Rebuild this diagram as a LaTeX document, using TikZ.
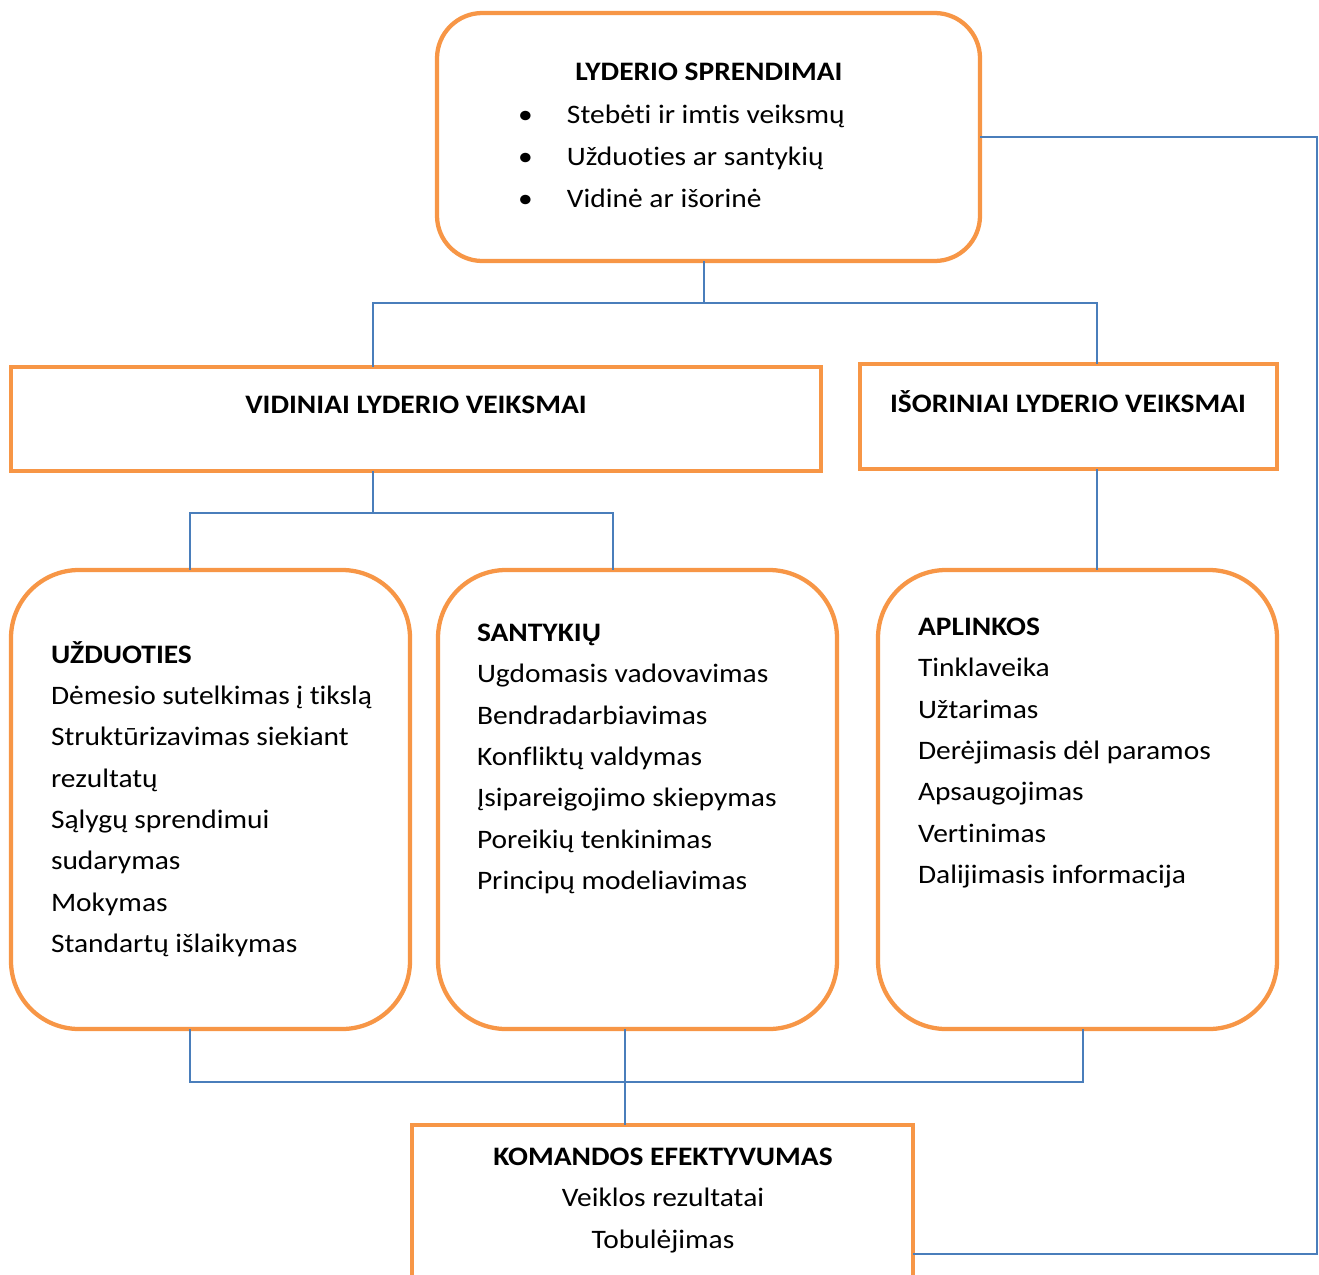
\documentclass[tikz,border=0pt]{standalone}
\usepackage{fontspec}
\setmainfont{Carlito}[FakeStretch=1.105,Ligatures=NoCommon]
\definecolor{orng}{HTML}{F79646}
\definecolor{blu}{HTML}{4A7EBB}
\newcommand\fl{\rule{0pt}{22pt}}
\begin{document}
\begin{tikzpicture}[x=0.75pt,y=-0.75pt,
  obox/.style={draw=orng,line width=3.2pt,fill=white,inner sep=0pt,outer sep=0pt},
  conn/.style={draw=blu,line width=1.1pt},
  txt/.style={inner sep=0pt,outer sep=0pt,font=\fontsize{20pt}{31pt}\selectfont},
  blk/.style={txt,anchor=north west,align=left},
  hd/.style={txt,anchor=base,font=\fontsize{20pt}{31pt}\selectfont\bfseries}]
\useasboundingbox (0,0) rectangle (1319,1274);
% boxes
\node[obox,rounded corners=34pt,minimum width=543*0.75pt,minimum height=248*0.75pt] (top) at (708.5,137) {};
\node[obox,minimum width=810*0.75pt,minimum height=104*0.75pt] (vid) at (416,419) {};
\node[obox,minimum width=417*0.75pt,minimum height=105*0.75pt] (iso) at (1068.5,416.5) {};
\node[obox,rounded corners=51pt,minimum width=399*0.75pt,minimum height=459*0.75pt] (u) at (210.5,799.5) {};
\node[obox,rounded corners=51pt,minimum width=399*0.75pt,minimum height=459*0.75pt] (s) at (637.5,799.5) {};
\node[obox,rounded corners=51pt,minimum width=399*0.75pt,minimum height=459*0.75pt] (a) at (1077.5,799.5) {};
\node[obox,minimum width=501*0.75pt,minimum height=258*0.75pt] (k) at (662.5,1254) {};
% texts
\node[hd] (tt) at (709,80) {LYDERIO SPRENDIMAI};
\node[blk,font=\fontsize{20pt}{31.6pt}\selectfont] (tl) at (518,93.7) {\fl\makebox[36.75pt][l]{\textbullet}Stebėti ir imtis veiksmų\\
\makebox[36.75pt][l]{\textbullet}Užduoties ar santykių\\
\makebox[36.75pt][l]{\textbullet}Vidinė ar išorinė};
\node[hd] (vt) at (416,413) {VIDINIAI LYDERIO VEIKSMAI};
\node[hd] (it) at (1068,412) {IŠORINIAI LYDERIO VEIKSMAI};
\node[blk] (ut) at (51,633.7) {\fl\textbf{UŽDUOTIES}\\Dėmesio sutelkimas į tikslą\\Struktūrizavimas siekiant\\rezultatų\\Sąlygų sprendimui\\sudarymas\\Mokymas\\Standartų išlaikymas};
\node[blk] (st) at (477,612.2) {\fl\textbf{SANTYKIŲ}\\Ugdomasis vadovavimas\\Bendradarbiavimas\\Konfliktų valdymas\\Įsipareigojimo skiepymas\\Poreikių tenkinimas\\Principų modeliavimas};
\node[blk] (at) at (918,606.2) {\fl\textbf{APLINKOS}\\Tinklaveika\\Užtarimas\\Derėjimasis dėl paramos\\Apsaugojimas\\Vertinimas\\Dalijimasis informacija};
\node[txt,anchor=north,align=center,font=\fontsize{20pt}{31.4pt}\selectfont] (kt) at (663,1135.7) {\fl\textbf{KOMANDOS EFEKTYVUMAS}\\Veiklos rezultatai\\Tobulėjimas};
% connectors
\draw[conn] (top.south -| 704,0) -- (704,303) -| (vid.north -| 373,0);
\draw[conn] (704,303) -| (iso.north -| 1097,0);
\draw[conn] (vid.south -| 373,0) -- (373,513) -| (u.north -| 190,0);
\draw[conn] (373,513) -| (s.north -| 613,0);
\draw[conn] (iso.south -| 1097,0) -- (a.north -| 1097,0);
\draw[conn] (u.south -| 190,0) -- (190,1082) -| (a.south -| 1083,0);
\draw[conn] (s.south -| 625,0) -- (k.north -| 625,0);
\draw[conn] (top.east) -- (1317,137) |- (k.east);
\end{tikzpicture}
\end{document}
